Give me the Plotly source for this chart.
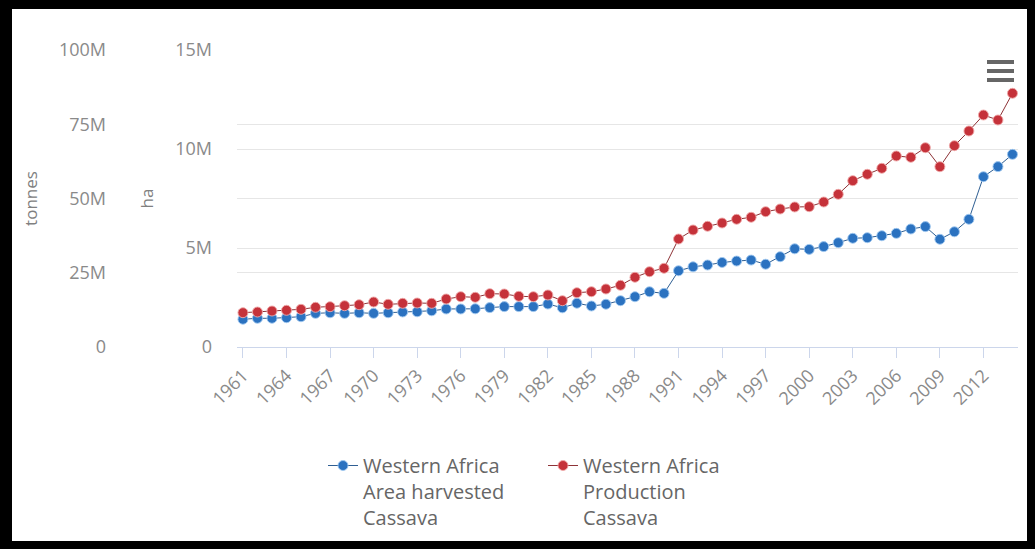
import plotly.graph_objects as go

# Western Africa cassava, 1961-2014
years = list(range(1961, 2015))

# Area harvested (ha)
area_harvested = [
    1.40e6, 1.45e6, 1.45e6, 1.48e6, 1.53e6, 1.70e6, 1.73e6, 1.70e6, 1.73e6, 1.70e6,
    1.73e6, 1.77e6, 1.78e6, 1.83e6, 1.92e6, 1.92e6, 1.93e6, 1.99e6, 2.04e6, 2.04e6,
    2.04e6, 2.17e6, 1.98e6, 2.21e6, 2.07e6, 2.16e6, 2.34e6, 2.54e6, 2.79e6, 2.71e6,
    3.85e6, 4.05e6, 4.14e6, 4.27e6, 4.34e6, 4.39e6, 4.18e6, 4.56e6, 4.96e6, 4.93e6,
    5.07e6, 5.27e6, 5.49e6, 5.52e6, 5.62e6, 5.74e6, 5.96e6, 6.08e6, 5.44e6, 5.82e6,
    6.45e6, 8.60e6, 9.11e6, 9.73e6,
]

# Production (tonnes)
production = [
    11.55e6, 11.78e6, 12.12e6, 12.36e6, 12.69e6, 13.37e6, 13.57e6, 13.91e6, 14.24e6, 15.15e6,
    14.38e6, 14.71e6, 14.81e6, 14.71e6, 16.16e6, 16.94e6, 16.73e6, 17.95e6, 17.85e6, 17.07e6,
    16.94e6, 17.51e6, 15.59e6, 18.28e6, 18.62e6, 19.53e6, 20.77e6, 23.47e6, 25.35e6, 26.50e6,
    36.36e6, 39.39e6, 40.64e6, 41.75e6, 43.00e6, 43.67e6, 45.56e6, 46.46e6, 47.14e6, 47.24e6,
    48.82e6, 51.41e6, 56.00e6, 58.15e6, 60.17e6, 64.31e6, 63.87e6, 67.10e6, 60.71e6, 67.78e6,
    72.73e6, 78.11e6, 76.43e6, 85.42e6,
]

series_names = [
    "Western Africa<br>Area harvested<br>Cassava",
    "Western Africa<br>Production<br>Cassava",
]

x_tick_years = list(range(1961, 2013, 3))
ha_ticks = [0, 5e6, 10e6, 15e6]
ha_tick_text = ["0", "5M", "10M", "15M"]
tonnes_ticks = [0, 25e6, 50e6, 75e6, 100e6]
tonnes_tick_text = ["0", "25M", "50M", "75M", "100M"]

# ---- page geometry (pixels) ----
W, H = 1035, 549
PLOT_L, PLOT_R, PLOT_T, PLOT_B = 237, 1018, 50, 347
FONT = "Open Sans, Noto Sans, sans-serif"
BLUE, RED = "#2b72c0", "#c5323a"
GRID = "#e6e6e6"


def px_x(x):
    """Pixel column -> paper x (margin.l is 0)."""
    return x / PLOT_R


def px_y(y):
    """Pixel row -> paper y."""
    return (PLOT_B - y) / (PLOT_B - PLOT_T)


fig = go.Figure()

fig.add_trace(go.Scatter(
    x=years, y=area_harvested, name=series_names[0], yaxis="y",
    mode="lines+markers",
    line=dict(color="#2f5f93", width=1),
    marker=dict(symbol="circle", size=10, color=BLUE,
                line=dict(color="rgba(160,200,240,0.9)", width=1)),
))

fig.add_trace(go.Scatter(
    x=years, y=production, name=series_names[1], yaxis="y2",
    mode="lines+markers",
    line=dict(color="#8e3337", width=1),
    marker=dict(symbol="circle", size=10, color=RED,
                line=dict(color="rgba(240,170,170,0.9)", width=1)),
))

tick_font = dict(family=FONT, size=18, color="#8a8a8a")
title_font = dict(family=FONT, size=17, color="#808080")

fig.update_layout(
    width=W, height=H,
    template="none",
    paper_bgcolor="white", plot_bgcolor="white",
    margin=dict(l=0, r=W - PLOT_R, t=PLOT_T, b=H - PLOT_B, pad=0),
    showlegend=True,
    hovermode=False,
    xaxis=dict(
        domain=[px_x(PLOT_L), 1],
        range=[1960.59, 2014.38],
        tickmode="array", tickvals=x_tick_years,
        tickangle=-45, tickfont=tick_font,
        ticks="outside", ticklen=10, tickcolor="#ccd6eb", tickwidth=1,
        showline=True, linecolor="#ccd6eb", linewidth=1,
        showgrid=False, zeroline=False, automargin=False,
    ),
    yaxis=dict(
        range=[0, 15e6],
        tickmode="array", tickvals=ha_ticks, ticktext=ha_tick_text,
        tickfont=tick_font, ticks="", ticklabelstandoff=24,
        showgrid=True, gridcolor=GRID, gridwidth=1,
        zeroline=False, showline=False, automargin=False,
        title=dict(text="ha", font=title_font, standoff=17),
    ),
    yaxis2=dict(
        range=[0, 100e6], overlaying="y", side="left", anchor="free",
        position=px_x(106),
        tickmode="array", tickvals=tonnes_ticks, ticktext=tonnes_tick_text,
        tickfont=tick_font, ticks="",
        showgrid=True, gridcolor=GRID, gridwidth=1,
        zeroline=False, showline=False, automargin=False,
        title=dict(text="tonnes", font=title_font, standoff=15),
    ),
    legend=dict(
        orientation="h", xref="container", yref="container",
        x=323 / W, xanchor="left", y=1 - 446 / H, yanchor="top",
        valign="top", itemwidth=30,
        entrywidth=175, entrywidthmode="pixels",
        font=dict(family=FONT, size=20, color="#666666"),
        bgcolor="rgba(0,0,0,0)", itemclick=False, itemdoubleclick=False,
        tracegroupgap=0,
    ),
)

shapes = []
# menu icon (three bars)
for yy in (62, 71, 80):
    shapes.append(dict(type="line", xref="paper", yref="paper",
                       x0=px_x(987), x1=px_x(1014), y0=px_y(yy), y1=px_y(yy),
                       line=dict(color="#666666", width=4), layer="above"))

# black frame around the page
frame = [(0, 0, 12, H), (1027, 0, W, H), (0, 0, W, 9), (0, 541, W, H)]
for x0, y0, x1, y1 in frame:
    shapes.append(dict(type="rect", xref="paper", yref="paper",
                       x0=px_x(x0), x1=px_x(x1), y0=px_y(y0), y1=px_y(y1),
                       fillcolor="black", line=dict(width=0), layer="above"))

fig.update_layout(shapes=shapes)

fig.write_html("out.html", config={"displayModeBar": False})
